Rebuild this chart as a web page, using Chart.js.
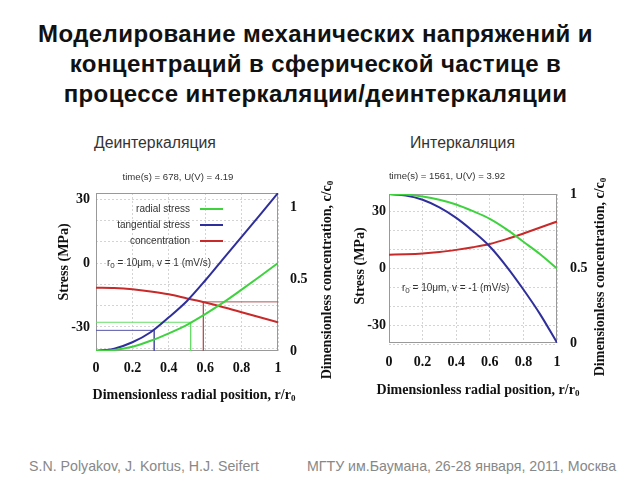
<!DOCTYPE html>
<html>
<head>
<meta charset="utf-8">
<script src="https://cdn.jsdelivr.net/npm/chart.js@4.4.1/dist/chart.umd.min.js"></script>
<style>
  body { margin: 0; width: 640px; height: 480px; background: #fff; position: relative; overflow: hidden; font-family: "Liberation Sans", Arial, sans-serif; }
  #title { position: absolute; left: 0; top: 19px; width: 631px; text-align: center; font-weight: bold; font-size: 24px; letter-spacing: 0.4px; line-height: 30px; color: #111; }
  .sub { position: absolute; top: 134px; font-size: 15.8px; color: #333; }
  .foot { position: absolute; top: 458px; font-size: 14.2px; color: #888; }
  .box { position: absolute; top: 160px; width: 300px; height: 250px; }
</style>
</head>
<body>
<div id="title">Моделирование механических напряжений и<br>концентраций в сферической частице в<br>процессе интеркаляции/деинтеркаляции</div>
<div class="sub" style="left:94px">Деинтеркаляция</div>
<div class="sub" style="left:410px">Интеркаляция</div>
<div class="box" style="left:40px"><canvas id="deChart" width="300" height="250"></canvas></div>
<div class="box" style="left:340px"><canvas id="inChart" width="300" height="250"></canvas></div>
<div class="foot" style="left:29px">S.N. Polyakov, J. Kortus, H.J. Seifert</div>
<div class="foot" style="left:307px">МГТУ им.Баумана, 26-28 января, 2011, Москва</div>

<script>
// dimensionless radial position r/r0
const rPos = [0, 0.1, 0.2, 0.3, 0.4, 0.5, 0.6, 0.7, 0.8, 0.9, 1.0];

// deintercalation (left), stress in MPa, concentration c/c0
const deRadial     = [-41.3, -40.8, -39.3, -36.5, -33, -29, -24, -18.5, -12.5, -6.3, 0];
const deTangential = [-41.3, -40.2, -37.2, -32.5, -25.5, -17.8, -8.2, 2.1, 12.3, 22.5, 32.9];
const deConc       = [0.44, 0.438, 0.43, 0.415, 0.395, 0.366, 0.337, 0.305, 0.27, 0.235, 0.2];

// guide lines on the left plot: [r, value]
const deRadialMark = [0.52, -27.8];
const deTangMark   = [0.32, -31.6];
const deConcMark   = [0.59, 0.342];

// intercalation (right)
const inRadial     = [39, 38.7, 37.7, 36, 33.5, 30, 26, 20.5, 14, 7.5, 0];
const inTangential = [39, 38.2, 36, 32, 26.5, 19.5, 11.5, 1, -11, -24, -38.8];
const inConc       = [0.593, 0.595, 0.6, 0.61, 0.625, 0.643, 0.665, 0.697, 0.735, 0.775, 0.815];

const stressTicks = [-40, -30, -20, -10, 0, 10, 20, 30];
const stressLabels = [-30, 0, 30];
const concTicks = [0, 0.5, 1];

const GREEN = '#3fd23f', BLUE = '#2f2f9c', RED = '#c82a2a';
const SERIF = '"Liberation Serif", "Times New Roman", serif';
const SANS = '"Liberation Sans", Arial, sans-serif';

function pts(ys) {
  return rPos.map((r, i) => ({ x: r, y: ys[i] }));
}

function curve(ys, color, axis) {
  return { data: pts(ys), borderColor: color, borderWidth: 2, pointRadius: 0,
           cubicInterpolationMode: 'monotone', yAxisID: axis };
}

function guide(mark, bottom, color, axis, fromRight) {
  const xEdge = fromRight ? 1 : 0;
  return { data: [{ x: xEdge, y: mark[1] }, { x: mark[0], y: mark[1] }, { x: mark[0], y: bottom }],
           borderColor: color, borderWidth: 1, pointRadius: 0, yAxisID: axis };
}

// plain number, no trailing zeros: 1 -> "1", 0.2 -> "0.2"
const plain = v => String(Math.round(v * 100) / 100);

function richWidth(ctx, parts, font, subFont) {
  let w = 0;
  parts.forEach(p => { ctx.font = p.sub ? subFont : font; w += ctx.measureText(p.t).width; });
  return w;
}

function drawRich(ctx, item) {
  const subFont = item.subFont || item.font;
  const w = richWidth(ctx, item.parts, item.font, subFont);
  let x = item.align === 'center' ? -w / 2 : (item.align === 'right' ? -w : 0);
  ctx.save();
  ctx.translate(item.x, item.y);
  if (item.rotate) ctx.rotate(item.rotate);
  ctx.fillStyle = item.color || '#111';
  ctx.textAlign = 'left';
  ctx.textBaseline = 'middle';
  item.parts.forEach(p => {
    ctx.font = p.sub ? subFont : item.font;
    ctx.fillText(p.t, x, p.sub ? (item.subDy || 3) : 0);
    x += ctx.measureText(p.t).width;
  });
  ctx.restore();
}

const slideText = {
  id: 'slideText',
  beforeDatasetsDraw(chart) {
    const a = chart.chartArea, ctx = chart.ctx;
    ctx.save();
    ctx.strokeStyle = '#999';
    ctx.lineWidth = 1;
    ctx.strokeRect(a.left + 0.5, a.top + 0.5, a.right - a.left - 1, a.bottom - a.top - 1);
    ctx.restore();
  },
  afterDraw(chart, args, opts) {
    const ctx = chart.ctx;
    (opts.items || []).forEach(item => {
      if (item.line) {
        ctx.save();
        ctx.strokeStyle = item.color;
        ctx.lineWidth = 2;
        ctx.beginPath();
        ctx.moveTo(item.line[0], item.line[2]);
        ctx.lineTo(item.line[1], item.line[2]);
        ctx.stroke();
        ctx.restore();
      } else {
        drawRich(ctx, item);
      }
    });
  }
};

function axisTitles(yLeftX, yLeftY, yRightX, yRightY, xX, xY) {
  const f = 'bold 14px ' + SERIF, sf = 'bold 9px ' + SERIF;
  return [
    { parts: [{ t: 'Stress (MPa)' }], x: yLeftX, y: yLeftY, align: 'center', rotate: -Math.PI / 2, font: f },
    { parts: [{ t: 'Dimensionless concentration, c/c' }, { t: '0', sub: true }], x: yRightX, y: yRightY,
      align: 'center', rotate: -Math.PI / 2, font: f, subFont: sf, subDy: 4 },
    { parts: [{ t: 'Dimensionless radial position, r/r' }, { t: '0', sub: true }], x: xX, y: xY,
      align: 'center', font: f, subFont: sf, subDy: 4 }
  ];
}

function makeScales(o) {
  const tickFont = { family: SERIF, size: 14, weight: 'bold' };
  return {
    x: {
      type: 'linear', min: 0, max: 1,
      ticks: { stepSize: 0.2, color: '#111', font: tickFont, padding: o.xPad, callback: plain },
      grid: { color: '#d4d4d4', drawTicks: false },
      border: { display: false, dash: [2, 2] },
      afterFit: s => { s.height = o.xH; }
    },
    y: {
      position: 'left', min: o.yMin, max: o.yMax,
      afterBuildTicks: s => { s.ticks = stressTicks.map(v => ({ value: v })); },
      ticks: { color: '#111', font: tickFont, padding: o.yPad,
               callback: v => stressLabels.includes(v) ? String(v) : '' },
      grid: { color: '#d4d4d4', drawTicks: false },
      border: { display: false, dash: [2, 2] },
      afterFit: s => { s.width = o.yW; }
    },
    y1: {
      position: 'right', min: 0, max: o.cMax,
      afterBuildTicks: s => { s.ticks = concTicks.map(v => ({ value: v })); },
      ticks: { color: '#111', font: tickFont, padding: o.cPad, callback: plain },
      grid: { display: false, drawTicks: false },
      border: { display: false },
      afterFit: s => { s.width = o.cW; }
    }
  };
}

const smallFont = '10px ' + SANS, smallSub = '8px ' + SANS;
const timeFont = '9.6px ' + SANS;

new Chart(document.getElementById('deChart'), {
  type: 'line',
  data: {
    datasets: [
      curve(deRadial, GREEN, 'y'),
      curve(deTangential, BLUE, 'y'),
      curve(deConc, RED, 'y1'),
      guide(deRadialMark, -41.3, '#66dd66', 'y', false),
      guide(deTangMark, -41.3, '#5555aa', 'y', false),
      guide(deConcMark, 0, '#b25555', 'y1', true)
    ]
  },
  options: {
    responsive: false,
    animation: false,
    layout: { padding: { top: 33, left: 0, right: 0, bottom: 0 } },
    scales: makeScales({ xPad: 9, xH: 59, yMin: -41.3, yMax: 32.9, yPad: 6, yW: 56, cMax: 1.1, cPad: 12, cW: 62 }),
    plugins: {
      legend: { display: false },
      tooltip: { enabled: false },
      slideText: {
        items: [
          { parts: [{ t: 'time(s) = 678, U(V) = 4.19' }], x: 138, y: 17, align: 'center', font: timeFont, color: '#333' },
          { parts: [{ t: 'radial stress' }], x: 150, y: 49, align: 'right', font: smallFont, color: '#333' },
          { line: [160, 183, 49], color: GREEN },
          { parts: [{ t: 'tangential stress' }], x: 150, y: 65, align: 'right', font: smallFont, color: '#333' },
          { line: [160, 183, 65], color: BLUE },
          { parts: [{ t: 'concentration' }], x: 150, y: 81, align: 'right', font: smallFont, color: '#333' },
          { line: [160, 183, 81], color: RED },
          { parts: [{ t: 'r' }, { t: '0', sub: true }, { t: ' = 10μm, v = 1 (mV/s)' }], x: 67, y: 103,
            align: 'left', font: smallFont, subFont: smallSub, color: '#333' }
        ].concat(axisTitles(24, 102, 287, 120, 154, 235))
      }
    }
  },
  plugins: [slideText]
});

new Chart(document.getElementById('inChart'), {
  type: 'line',
  data: {
    datasets: [
      curve(inRadial, GREEN, 'y'),
      curve(inTangential, BLUE, 'y'),
      curve(inConc, RED, 'y1')
    ]
  },
  options: {
    responsive: false,
    animation: false,
    layout: { padding: { top: 34, left: 0, right: 0, bottom: 0 } },
    scales: makeScales({ xPad: 11, xH: 67, yMin: -39, yMax: 39, yPad: 3, yW: 49, cMax: 1, cPad: 13, cW: 83 }),
    plugins: {
      legend: { display: false },
      tooltip: { enabled: false },
      slideText: {
        items: [
          { parts: [{ t: 'time(s) = 1561, U(V) = 3.92' }], x: 107, y: 16, align: 'center', font: timeFont, color: '#333' },
          { parts: [{ t: 'r' }, { t: '0', sub: true }, { t: ' = 10μm, v = -1 (mV/s)' }], x: 62, y: 128,
            align: 'left', font: smallFont, subFont: smallSub, color: '#333' }
        ].concat(axisTitles(20, 106, 260, 117, 138, 230))
      }
    }
  },
  plugins: [slideText]
});
</script>
</body>
</html>
